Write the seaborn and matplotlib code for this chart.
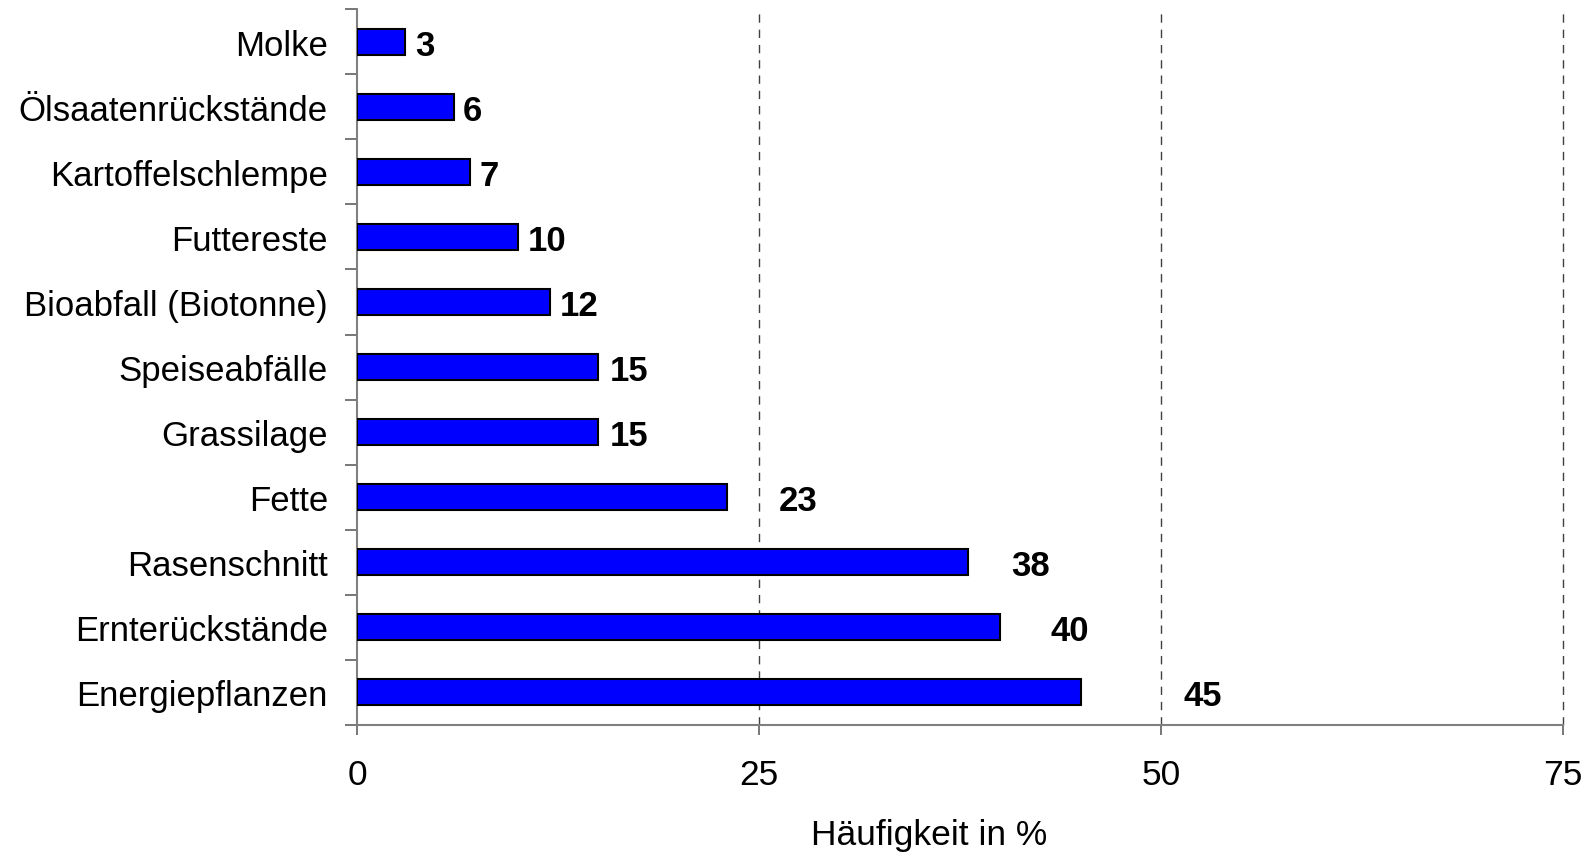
import numpy as np
import pandas as pd
import matplotlib
matplotlib.use("Agg")
import matplotlib.pyplot as plt
import seaborn as sns

# Daten (von oben nach unten)
substrate = ['Molke', 'Ölsaatenrückstände', 'Kartoffelschlempe', 'Futtereste',
             'Bioabfall (Biotonne)', 'Speiseabfälle', 'Grassilage', 'Fette',
             'Rasenschnitt', 'Ernterückstände', 'Energiepflanzen']
haeufigkeit = [3, 6, 7, 10, 12, 15, 15, 23, 38, 40, 45]
x_ticks = [0, 25, 50, 75]

# Abstand der Beschriftung vom Balkenende (in Prozentpunkten, wie im Original verschoben)
label_pad = [0.6, 0.6, 0.6, 0.6, 0.6, 0.7, 0.7, 3.2, 2.7, 3.1, 6.4]

df = pd.DataFrame({'Substrat': substrate, 'Haeufigkeit': haeufigkeit})

sns.set_style('white')
plt.rcParams['font.family'] = ['Liberation Sans', 'DejaVu Sans']
plt.rcParams['text.color'] = 'black'
plt.rcParams['xtick.color'] = 'black'
plt.rcParams['ytick.color'] = 'black'
plt.rcParams['axes.labelcolor'] = 'black'

fig = plt.figure(figsize=(15.92, 8.53), dpi=100)
ax = fig.add_axes([0.2243, 0.149, 0.7575, 0.839])

sns.barplot(data=df, x='Haeufigkeit', y='Substrat', orient='h', color='#0000FF',
            saturation=1, width=0.4, edgecolor='black', linewidth=1.5, ax=ax, zorder=3)

ax.set_xlim(0, 75)
ax.set_ylim(len(substrate) - 0.5, -0.5)
ax.set_xticks(x_ticks)
ax.set_xticklabels([str(t) for t in x_ticks])

# Gitterlinien
for t in x_ticks[1:]:
    ax.axvline(t, color='#404040', linestyle=(0, (6, 5)), linewidth=1.0, zorder=1,
               clip_on=False)

# Achsen
for side in ['top', 'right']:
    ax.spines[side].set_visible(False)
for side in ['left', 'bottom']:
    ax.spines[side].set_color('#808080')
    ax.spines[side].set_linewidth(1.5)

ax.set_yticks(np.arange(len(substrate)))
ax.set_yticklabels(substrate)
ax.set_yticks(np.arange(len(substrate) + 1) - 0.5, minor=True)
ax.tick_params(axis='y', which='both', left=True)
ax.tick_params(axis='y', which='major', length=0, pad=21, labelsize=25, labelcolor='black')
ax.tick_params(axis='y', which='minor', length=9, width=1.2, color='#606060', direction='out')
ax.tick_params(axis='x', which='major', bottom=True, length=7, width=1.2, color='#606060',
               direction='out', pad=17, labelsize=25.5, labelcolor='black')

ax.set_ylabel('')
ax.set_xlabel('Häufigkeit in %', fontsize=25.5, color='black')
ax.xaxis.set_label_coords(0.474, -0.13)

for i, (v, p) in enumerate(zip(haeufigkeit, label_pad)):
    ax.text(v + p, i, str(v), ha='left', va='center_baseline', fontsize=25,
            fontweight='bold', color='black', zorder=4)

fig.savefig('out.png', dpi=100)
